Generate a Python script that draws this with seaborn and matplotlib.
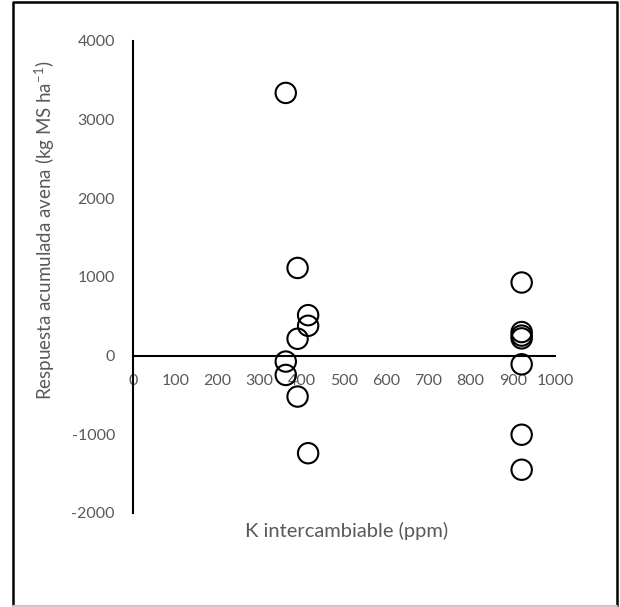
import matplotlib
matplotlib.use("Agg")
import matplotlib.pyplot as plt
import seaborn as sns
import pandas as pd
from matplotlib.lines import Line2D

# Data
k_ppm = [362, 390, 415, 415, 390, 362, 362, 390, 415,
         921, 921, 921, 921, 921, 921, 921]
respuesta = [3340, 1115, 515, 380, 215, -75, -245, -520, -1240,
             930, 300, 255, 220, -110, -1005, -1450]

x_ticks = [0, 100, 200, 300, 400, 500, 600, 700, 800, 900, 1000]
y_ticks = [-2000, -1000, 0, 1000, 2000, 3000, 4000]
x_label = "K intercambiable (ppm)"
y_label = "Respuesta acumulada avena (kg MS ha$^{-1}$)"

df = pd.DataFrame({"k": k_ppm, "resp": respuesta})

sns.set_style("white")
plt.rcParams["font.family"] = ["Lato", "DejaVu Sans"]
plt.rcParams["mathtext.fontset"] = "custom"
plt.rcParams["mathtext.rm"] = "Lato"
plt.rcParams["mathtext.it"] = "Lato"

fig = plt.figure(figsize=(6.2, 6.07), dpi=100)
ax = fig.add_axes([133 / 620, 1 - 513 / 607, (555 - 133) / 620, (513 - 41) / 607])

sns.scatterplot(data=df, x="k", y="resp", ax=ax, s=215, marker="o",
                facecolors="none", edgecolor="black", linewidth=1.5, zorder=3)

ax.set_xlim(0, 1000)
ax.set_ylim(-2000, 4000)
ax.set_xticks(x_ticks)
ax.set_yticks(y_ticks)
ax.set_yticklabels([str(v) for v in y_ticks])
ax.set_xticklabels([str(v) for v in x_ticks])

for side in ("top", "right"):
    ax.spines[side].set_visible(False)
ax.spines["left"].set_position(("data", 0))
ax.spines["bottom"].set_position(("data", 0))
for side in ("left", "bottom"):
    ax.spines[side].set_linewidth(1.5)
    ax.spines[side].set_color("black")

ax.tick_params(axis="both", direction="in", length=5, width=1.5, color="black",
               labelsize=11.5, labelcolor="#595959", pad=13)

ax.set_xlabel("")
ax.set_ylabel("")
fig.text(347 / 620, 1 - 531 / 607, x_label, ha="center", va="center",
         fontsize=14.5, color="#595959")
fig.text(45 / 620, 1 - 230 / 607, y_label, ha="center", va="center",
         rotation=90, fontsize=13.5, color="#595959")

# outer frame
L, R, T, B = 12.5 / 620, 617 / 620, 1 - 2 / 607, 1 - 605.5 / 607
fig.lines.append(Line2D([L, L, R, R], [B, T, T, B], transform=fig.transFigure,
                        color="black", linewidth=1.8))
fig.lines.append(Line2D([L, R], [B, B], transform=fig.transFigure,
                        color="#c8c8c8", linewidth=1.5))

fig.savefig("out.png", dpi=100)
